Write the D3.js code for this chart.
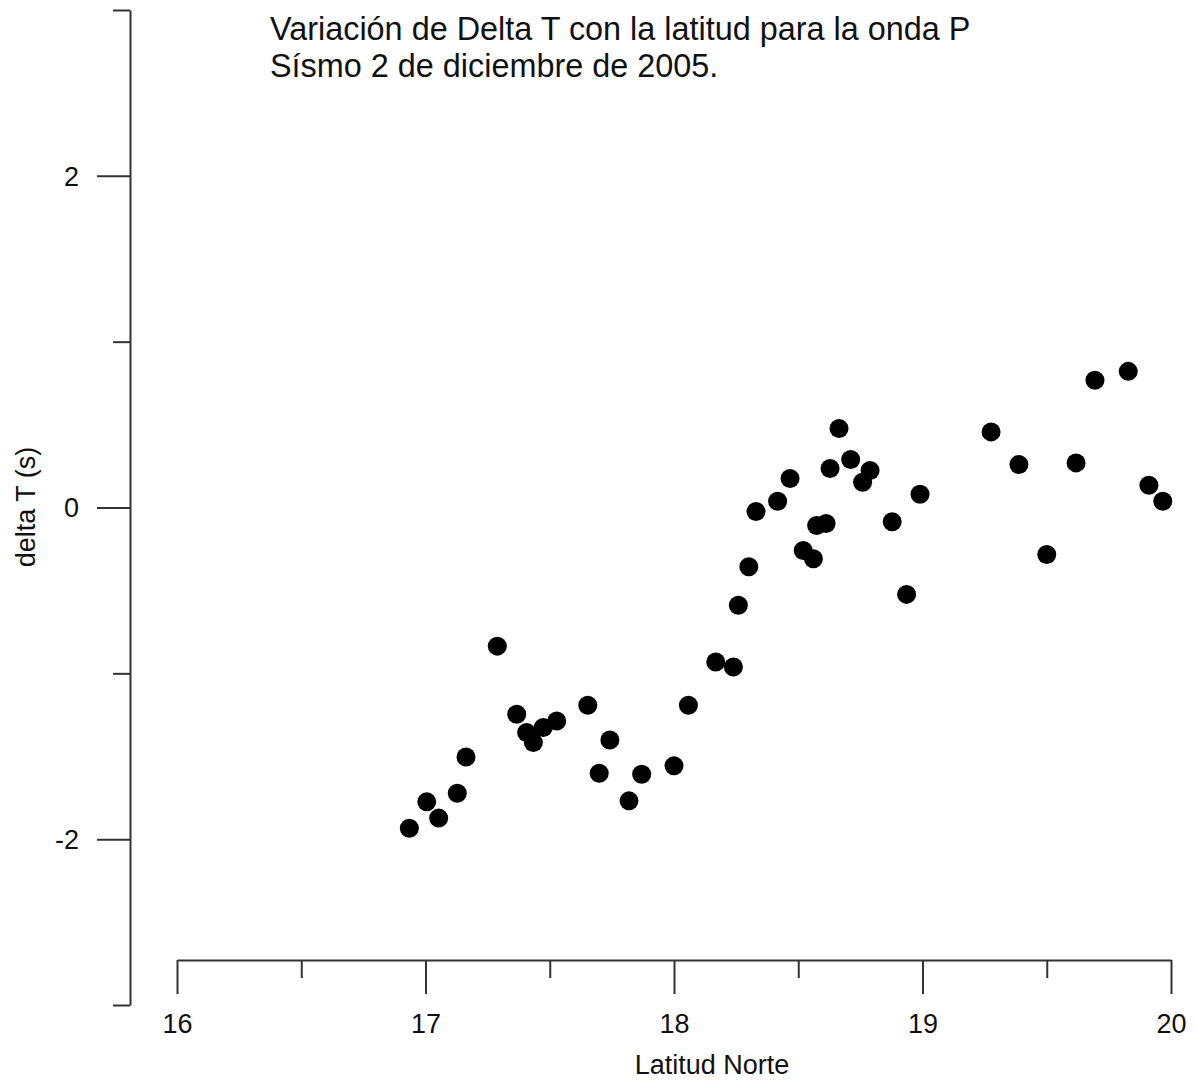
<!DOCTYPE html>
<html>
<head>
<meta charset="utf-8">
<script src="https://cdn.jsdelivr.net/npm/d3@7"></script>
<style>
  html, body { margin: 0; padding: 0; background: #fff; }
  svg { display: block; }
  text { font-family: "Liberation Sans", Arial, sans-serif; fill: #111; }
</style>
</head>
<body>
<svg id="chart" width="1196" height="1080"></svg>
<script>
// Data
const latitud = [
  16.935, 17.005, 17.053, 17.128, 17.163, 17.289, 17.367, 17.407, 17.434, 17.474,
  17.528, 17.653, 17.699, 17.742, 17.819, 17.870, 18.000, 18.058, 18.168, 18.239,
  18.259, 18.301, 18.330, 18.417, 18.467, 18.520, 18.561, 18.574, 18.612, 18.628,
  18.664, 18.711, 18.759, 18.789, 18.878, 18.936, 18.990, 19.276, 19.388, 19.500,
  19.618, 19.694, 19.828, 19.911, 19.967
];
const deltaT = [
  -1.934, -1.775, -1.873, -1.723, -1.504, -0.836, -1.247, -1.357, -1.417, -1.327,
  -1.287, -1.193, -1.602, -1.402, -1.769, -1.608, -1.558, -1.193, -0.932, -0.962,
  -0.589, -0.357, -0.024, 0.038, 0.175, -0.259, -0.309, -0.108, -0.096, 0.235,
  0.476, 0.289, 0.152, 0.223, -0.086, -0.524, 0.080, 0.456, 0.259, -0.283,
  0.269, 0.767, 0.821, 0.134, 0.038
];
const xMajorTicks = [16, 17, 18, 19, 20];
const xMinorTicks = [16.5, 17.5, 18.5, 19.5];
const yMajorTicks = [-2, 0, 2];
const yMinorTicks = [-3, -1, 1, 3];
const titleLines = ["Variación de Delta T con la latitud para la onda P", "Sísmo 2 de diciembre de 2005."];
const xLabel = "Latitud Norte";
const yLabel = "delta T (s)";

const svg = d3.select("#chart");
const axisColor = "#333";

const x = d3.scaleLinear().domain([16, 20]).range([177, 1171]);
const y = d3.scaleLinear().domain([-3, 3]).range([1005, 10]);

const xAxisY = 960;
const yAxisX = 130;
const fmt = d => String(d);

function styleAxis(g) {
  g.selectAll("path.domain").attr("stroke", axisColor).attr("stroke-width", 2);
  g.selectAll(".tick line").attr("stroke", axisColor).attr("stroke-width", 2);
  g.selectAll(".tick text")
    .attr("fill", "#111")
    .style("font-family", '"Liberation Sans", Arial, sans-serif')
    .style("font-size", "27px");
}

// X axis (major + minor)
const gx = svg.append("g").attr("transform", `translate(0,${xAxisY})`)
  .call(d3.axisBottom(x).tickValues(xMajorTicks).tickSize(34).tickSizeOuter(0).tickFormat(fmt));
gx.selectAll(".tick text").attr("dy", 0).attr("y", 73);
styleAxis(gx);
const gxm = svg.append("g").attr("transform", `translate(0,${xAxisY})`)
  .call(d3.axisBottom(x).tickValues(xMinorTicks).tickSize(18).tickSizeOuter(0).tickFormat(""));
gxm.select("path.domain").remove();
styleAxis(gxm);

// Y axis (major + minor)
const gy = svg.append("g").attr("transform", `translate(${yAxisX},0)`)
  .call(d3.axisLeft(y).tickValues(yMajorTicks).tickSize(33).tickSizeOuter(0).tickPadding(18).tickFormat(fmt));
gy.selectAll(".tick text").attr("dy", "0.35em");
styleAxis(gy);
const gym = svg.append("g").attr("transform", `translate(${yAxisX},0)`)
  .call(d3.axisLeft(y).tickValues(yMinorTicks).tickSize(17).tickSizeOuter(0).tickFormat(""));
gym.select("path.domain").remove();
styleAxis(gym);

// Points
svg.append("g").selectAll("circle")
  .data(latitud.map((v, i) => ({ lat: v, dt: deltaT[i] })))
  .join("circle")
  .attr("cx", d => x(d.lat))
  .attr("cy", d => y(d.dt))
  .attr("r", 9.5)
  .attr("fill", "#000");

// Axis titles
svg.append("text")
  .attr("x", 712).attr("y", 1074)
  .attr("text-anchor", "middle")
  .style("font-size", "27px")
  .text(xLabel);

svg.append("text")
  .attr("transform", "translate(35,507) rotate(-90)")
  .attr("text-anchor", "middle")
  .style("font-size", "27px")
  .text(yLabel);

// Title
svg.append("g").selectAll("text")
  .data(titleLines)
  .join("text")
  .attr("x", 270)
  .attr("y", (d, i) => 40 + i * 37)
  .style("font-size", "32.4px")
  .text(d => d);
</script>
</body>
</html>
